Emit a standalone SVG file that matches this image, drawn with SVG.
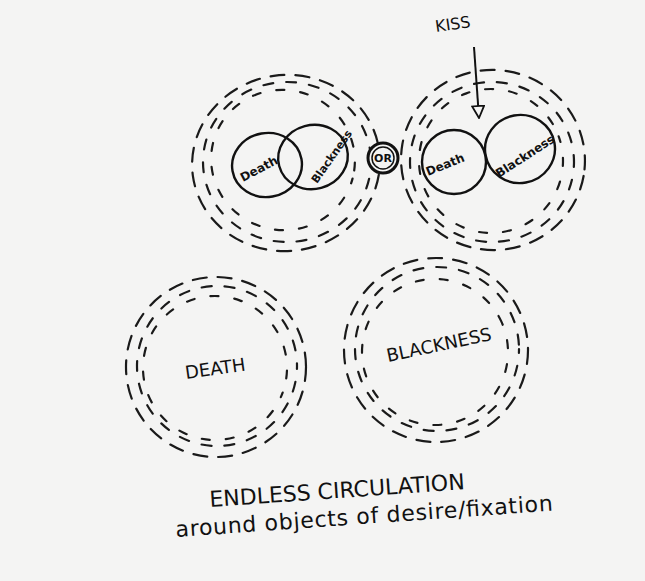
<svg xmlns="http://www.w3.org/2000/svg" width="645" height="581" viewBox="0 0 645 581">
<defs>
<style>
.bg{fill:#f4f4f3}
.ring{fill:none;stroke:#1a1a1a;stroke-width:2.2;stroke-linecap:round}
.d1{stroke-dasharray:14 11}
.d2{stroke-dasharray:10 13}
.d3{stroke-dasharray:8 16}
.solid{fill:none;stroke:#111;stroke-width:2.4}
.hand{font-family:"DejaVu Sans","Liberation Sans",sans-serif;fill:#111}
.conn{fill:none;stroke:#111;stroke-width:2}
</style>
<marker id="openTri" viewBox="0 0 14 14" refX="13" refY="7" markerWidth="14" markerHeight="14" markerUnits="userSpaceOnUse" orient="auto">
<path d="M1,1 L13,7 L1,13 Z" fill="#f4f4f3" stroke="#111" stroke-width="1.8"/>
</marker>
</defs>
<rect class="bg" x="0" y="0" width="645" height="581"/>

<g id="venn-left">
<ellipse class="ring d1" cx="286" cy="163" rx="94" ry="88" transform="rotate(-8 286 163)"/>
<ellipse class="ring d2" cx="287" cy="162" rx="84" ry="80" stroke-dashoffset="6"/>
<ellipse class="ring d3" cx="283" cy="160" rx="72" ry="70" stroke-dashoffset="3" transform="rotate(15 283 160)"/>
<ellipse class="solid" cx="267" cy="165" rx="35" ry="32" transform="rotate(-10 267 165)"/>
<ellipse class="solid" cx="313" cy="157" rx="35" ry="32" transform="rotate(-15 313 157)"/>
<text class="hand" x="0" y="0" font-size="12" font-weight="bold" transform="translate(243,182) rotate(-28)">Death</text>
<text class="hand" x="0" y="0" font-size="11" font-weight="bold" transform="translate(317,184) rotate(-55)">Blackness</text>
</g>

<g id="or">
<circle cx="383" cy="158" r="15" fill="#f4f4f3" stroke="#111" stroke-width="3"/>
<circle cx="383" cy="158" r="11" fill="none" stroke="#111" stroke-width="1.5"/>
<text class="hand" x="383" y="162" font-size="11" font-weight="bold" text-anchor="middle">OR</text>
</g>

<g id="venn-right">
<ellipse class="ring d1" cx="493" cy="160" rx="92" ry="90" transform="rotate(10 493 160)"/>
<ellipse class="ring d2" cx="492" cy="162" rx="82" ry="80" stroke-dashoffset="5"/>
<ellipse class="ring d3" cx="491" cy="161" rx="72" ry="72" stroke-dashoffset="2" transform="rotate(-20 491 161)"/>
<ellipse class="solid" cx="454" cy="162" rx="32" ry="32"/>
<ellipse class="solid" cx="520" cy="149" rx="35" ry="34" transform="rotate(-10 520 149)"/>
<text class="hand" x="0" y="0" font-size="12" font-weight="bold" transform="translate(428,176) rotate(-22)">Death</text>
<text class="hand" x="0" y="0" font-size="12" font-weight="bold" transform="translate(499,178) rotate(-33)">Blackness</text>
</g>

<g id="kiss">
<text class="hand" x="0" y="0" font-size="16" transform="translate(436,32) rotate(-8)">KISS</text>
</g>

<g id="connectors">
<path class="conn" d="M474,47 L479,118" marker-end="url(#openTri)"/>
</g>

<g id="death">
<circle class="ring d1" cx="216" cy="367" r="90"/>
<circle class="ring d2" cx="217" cy="366" r="80" stroke-dashoffset="7"/>
<circle class="ring d3" cx="215" cy="368" r="72" stroke-dashoffset="3" transform="rotate(20 215 368)"/>
<text class="hand" x="0" y="0" font-size="18" transform="translate(186,379) rotate(-8)">DEATH</text>
</g>

<g id="blackness">
<circle class="ring d1" cx="436" cy="350" r="92"/>
<circle class="ring d2" cx="437" cy="349" r="82" stroke-dashoffset="6"/>
<circle class="ring d3" cx="435" cy="352" r="73" stroke-dashoffset="4" transform="rotate(-25 435 352)"/>
<text class="hand" x="0" y="0" font-size="18" transform="translate(388,362) rotate(-12)">BLACKNESS</text>
</g>

<g id="caption">
<text class="hand" x="0" y="0" font-size="22" transform="translate(210,507) rotate(-4)">ENDLESS  CIRCULATION</text>
<text class="hand" x="0" y="0" font-size="22" textLength="378" transform="translate(176,537) rotate(-4)">around objects of desire/fixation</text>
</g>
</svg>
